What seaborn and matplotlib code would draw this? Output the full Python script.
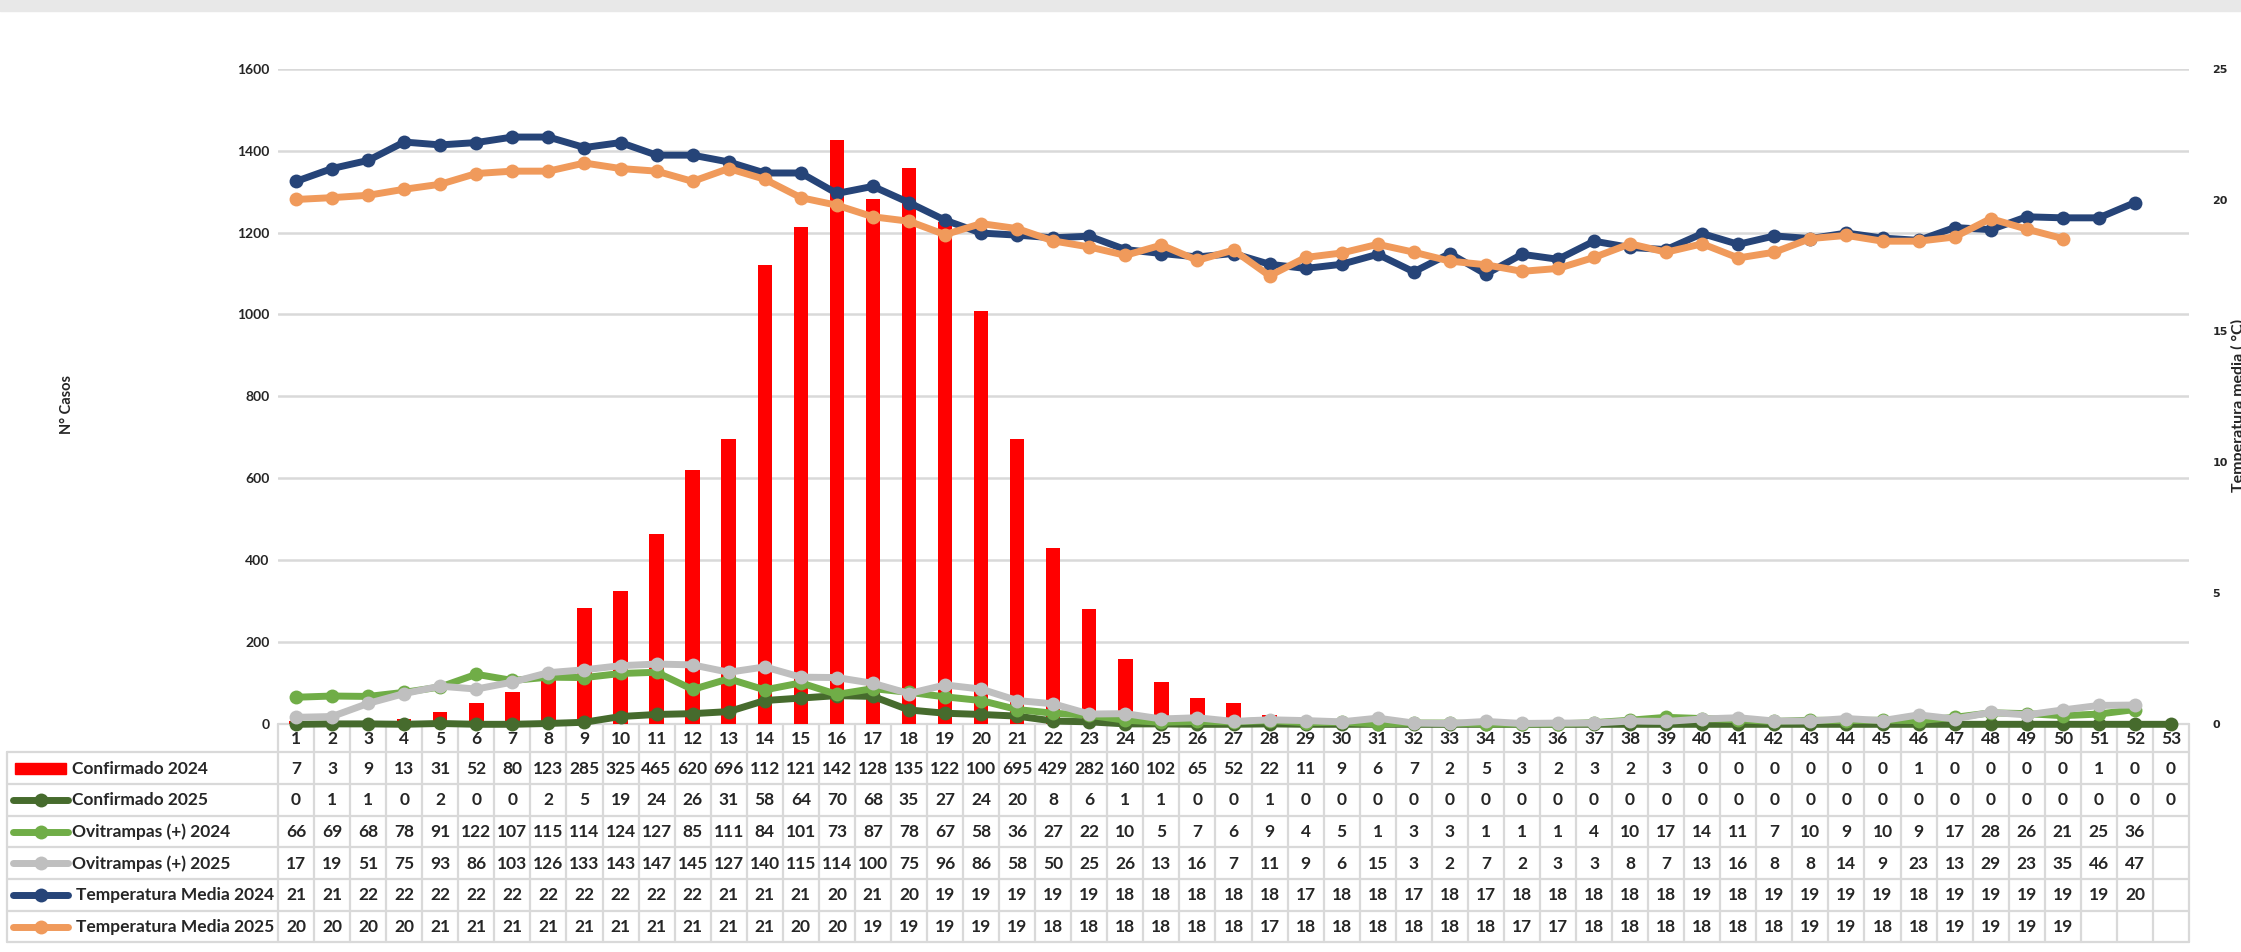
import matplotlib
matplotlib.use("Agg")
import matplotlib.pyplot as plt
import matplotlib.transforms as mtransforms
from matplotlib.patches import Rectangle
from matplotlib.lines import Line2D
import numpy as np
import pandas as pd
import seaborn as sns

# ---------------- data ----------------
weeks = list(range(1, 54))

confirmado_2024 = [7, 3, 9, 13, 31, 52, 80, 123, 285, 325, 465, 620, 696,
                   1120, 1214, 1425, 1283, 1358, 1225, 1008,
                   695, 429, 282, 160, 102, 65, 52, 22, 11, 9, 6, 7, 2, 5, 3, 2, 3, 2, 3,
                   0, 0, 0, 0, 0, 0, 1, 0, 0, 0, 0, 1, 0, 0]

confirmado_2025 = [0, 1, 1, 0, 2, 0, 0, 2, 5, 19, 24, 26, 31, 58, 64, 70, 68, 35, 27, 24,
                   20, 8, 6, 1, 1, 0, 0, 1, 0, 0, 0, 0, 0, 0, 0, 0, 0, 0, 0,
                   0, 0, 0, 0, 0, 0, 0, 0, 0, 0, 0, 0, 0, 0]

ovitrampas_2024 = [66, 69, 68, 78, 91, 122, 107, 115, 114, 124, 127, 85, 111, 84, 101, 73,
                   87, 78, 67, 58, 36, 27, 22, 10, 5, 7, 6, 9, 4, 5, 1, 3, 3, 1, 1, 1, 4,
                   10, 17, 14, 11, 7, 10, 9, 10, 9, 17, 28, 26, 21, 25, 36]

ovitrampas_2025 = [17, 19, 51, 75, 93, 86, 103, 126, 133, 143, 147, 145, 127, 140, 115, 114,
                   100, 75, 96, 86, 58, 50, 25, 26, 13, 16, 7, 11, 9, 6, 15, 3, 2, 7, 2, 3,
                   3, 8, 7, 13, 16, 8, 8, 14, 9, 23, 13, 29, 23, 35, 46, 47]

temp_2024 = [20.70, 21.19, 21.50, 22.20, 22.09, 22.18, 22.39, 22.39, 21.99, 22.18, 21.70,
             21.70, 21.44, 21.02, 21.02, 20.24, 20.51, 19.89, 19.22, 18.73, 18.65, 18.55,
             18.61, 18.10, 17.95, 17.82, 17.95, 17.54, 17.38, 17.54, 17.92, 17.25, 17.95,
             17.16, 17.92, 17.73, 18.42, 18.18, 18.10, 18.71, 18.30, 18.62, 18.52, 18.73,
             18.54, 18.45, 18.94, 18.86, 19.35, 19.31, 19.31, 19.89]

temp_2025 = [20.01, 20.08, 20.17, 20.40, 20.59, 21.00, 21.09, 21.09, 21.40, 21.19, 21.09,
             20.70, 21.19, 20.78, 20.08, 19.79, 19.35, 19.18, 18.67, 19.09, 18.90, 18.43,
             18.20, 17.88, 18.27, 17.69, 18.08, 17.10, 17.80, 17.97, 18.30, 18.00, 17.66,
             17.52, 17.27, 17.38, 17.80, 18.32, 18.00, 18.32, 17.78, 18.00, 18.52, 18.64,
             18.42, 18.42, 18.58, 19.28, 18.88, 18.52]

series_names = ["Confirmado 2024", "Confirmado 2025", "Ovitrampas (+) 2024",
                "Ovitrampas (+) 2025", "Temperatura Media 2024", "Temperatura Media 2025"]
left_ticks = [0, 200, 400, 600, 800, 1000, 1200, 1400, 1600]
right_ticks = [0, 5, 10, 15, 20, 25]

# ---------------- style ----------------
RED = "#FF0000"
DKGREEN = "#466B2D"
LTGREEN = "#70AD47"
GRAY = "#BFBFBF"
BLUE = "#264478"
ORANGE = "#F09A5B"
GRID = "#D9D9D9"

sns.set_style("white")
plt.rcParams["font.family"] = ["Lato", "DejaVu Sans"]
plt.rcParams["font.weight"] = "bold"

W, H = 2241, 952
fig = plt.figure(figsize=(W / 100, H / 100), dpi=100)

def fx(px):
    return px / W

def fy(py):
    return 1 - py / H

x_left, x_right = 278, 2189
y_top, y_zero = 68.6, 724.3
ax = fig.add_axes([fx(x_left), fy(y_zero), fx(x_right - x_left), (y_zero - y_top) / H])
ax.patch.set_visible(False)

# top gray band
fig.patches.append(Rectangle((0, fy(11)), 1, 11 / H, transform=fig.transFigure,
                             color="#E8E8E8", zorder=-2))

df = pd.DataFrame({"week": weeks, "c24": confirmado_2024, "c25": confirmado_2025})

sns.barplot(data=df, x="week", y="c24", native_scale=True, width=0.4, color=RED,
            saturation=1, ax=ax, zorder=2, edgecolor="none")

lw = 5
ms = 10
sns.lineplot(x=weeks, y=confirmado_2025, ax=ax, color=DKGREEN, lw=lw, marker="o",
             markersize=ms, markeredgewidth=0, zorder=3, clip_on=False)
sns.lineplot(x=weeks[:len(ovitrampas_2024)], y=ovitrampas_2024, ax=ax, color=LTGREEN,
             lw=lw, marker="o", markersize=ms, markeredgewidth=0, zorder=4, clip_on=False)
sns.lineplot(x=weeks[:len(ovitrampas_2025)], y=ovitrampas_2025, ax=ax, color=GRAY,
             lw=lw, marker="o", markersize=ms, markeredgewidth=0, zorder=5, clip_on=False)

ax.set_xlim(0.5, 53.5)
ax.set_ylim(0, 1600)
ax.set_yticks(left_ticks)
ax.set_yticklabels([str(t) for t in left_ticks], fontsize=10, fontweight="bold")
ax.tick_params(axis="y", length=0, pad=6)
ax.set_xticks([])
ax.set_xlabel("")
ax.set_ylabel("")
ax.yaxis.grid(True, color=GRID, lw=1.8)
ax.set_axisbelow(True)
for s in ax.spines.values():
    s.set_visible(False)

ax2 = ax.twinx()
sns.lineplot(x=weeks[:len(temp_2024)], y=temp_2024, ax=ax2, color=BLUE, lw=lw,
             marker="o", markersize=ms, markeredgewidth=0, zorder=3)
sns.lineplot(x=weeks[:len(temp_2025)], y=temp_2025, ax=ax2, color=ORANGE, lw=lw,
             marker="o", markersize=ms, markeredgewidth=0, zorder=4)
ax2.set_ylim(0, 25)
ax2.set_yticks(right_ticks)
ax2.set_yticklabels([str(t) for t in right_ticks], fontsize=8, fontweight="bold",
                    family="DejaVu Sans")
ax2.tick_params(axis="y", length=0, pad=17)
ax2.set_ylabel("")
ax2.set_xlim(0.5, 53.5)
for s in ax2.spines.values():
    s.set_visible(False)

# axis titles
fig.text(fx(67), fy(405), "N° Casos", rotation=90, ha="center", va="center",
         fontsize=10.5, fontweight="bold")
fig.text(fx(2231), fy(405), "Temperatura media ( °C)", rotation=90, ha="left",
         va="center", fontsize=11.5, fontweight="bold")

# ---------------- data table ----------------
blend = mtransforms.blended_transform_factory(ax.transData, fig.transFigure)
row_borders = [752.3, 784.0, 815.7, 847.3, 879.0, 910.7, 942.4]
row_centers = [(row_borders[i] + row_borders[i + 1]) / 2 for i in range(6)]
tcol = GRID
tlw = 1.6

# vertical borders
for k in range(54):
    fig.add_artist(Line2D([k + 0.5, k + 0.5], [fy(y_zero), fy(row_borders[-1])],
                          transform=blend, color=tcol, lw=tlw, zorder=-1))
# horizontal borders
for yb in row_borders:
    fig.add_artist(Line2D([fx(7), fx(x_right)], [fy(yb), fy(yb)],
                          transform=fig.transFigure, color=tcol, lw=tlw, zorder=-1))
fig.add_artist(Line2D([fx(7), fx(7)], [fy(row_borders[0]), fy(row_borders[-1])],
                      transform=fig.transFigure, color=tcol, lw=tlw, zorder=-1))
fig.add_artist(Line2D([0.5, 53.5], [fy(y_zero), fy(y_zero)], transform=blend,
                      color=tcol, lw=tlw, zorder=-1))

tfs = 12.5
for w in weeks:
    fig.text(w, fy(739), str(w), transform=blend, ha="center", va="center",
             fontsize=tfs, fontweight="bold", zorder=-1)

def cell_text(v):
    # numbers wider than the cell are cut off as in the spreadsheet table
    return str(v)[:3]

rows = [
    [cell_text(v) for v in confirmado_2024],
    [str(v) for v in confirmado_2025],
    [str(v) for v in ovitrampas_2024],
    [str(v) for v in ovitrampas_2025],
    [f"{v:.0f}" for v in temp_2024],
    [f"{v:.0f}" for v in temp_2025],
]
for r, vals in enumerate(rows):
    yc = fy(row_centers[r] + 0.5)
    for i, t in enumerate(vals):
        fig.text(weeks[i], yc, t, transform=blend, ha="center", va="center",
                 fontsize=tfs, fontweight="bold")

# legend keys in the table
key_colors = [RED, DKGREEN, LTGREEN, GRAY, BLUE, ORANGE]
for r, (name, c) in enumerate(zip(series_names, key_colors)):
    yc = row_centers[r]
    if r == 0:
        fig.patches.append(Rectangle((fx(15), fy(yc + 5.5)), fx(51), 11 / H,
                                     transform=fig.transFigure, color=c, zorder=2))
    else:
        fig.add_artist(Line2D([fx(13), fx(68)], [fy(yc), fy(yc)],
                              transform=fig.transFigure, color=c, lw=lw,
                              solid_capstyle="round", zorder=2))
        fig.add_artist(Line2D([fx(40.5)], [fy(yc)], transform=fig.transFigure,
                              color=c, marker="o", markersize=ms,
                              markeredgewidth=0, zorder=3))
    tx = 72 if r < 4 else 76
    fig.text(fx(tx), fy(yc + 0.5), name, ha="left", va="center", fontsize=tfs,
             fontweight="bold")

fig.savefig("out.png", dpi=100)
